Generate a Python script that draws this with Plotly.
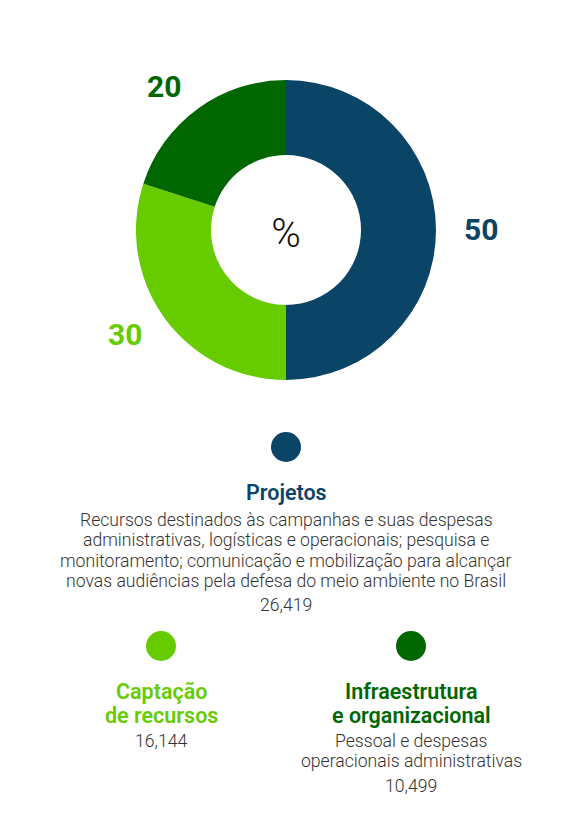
import math
import plotly.graph_objects as go

W, H = 570, 816
OFF = 8  # page body margin in the browser

# ---- data ----
categories = ["Projetos", "Captação de recursos", "Infraestrutura e organizacional"]
percentages = [50, 30, 20]
amounts = ["26,419", "16,144", "10,499"]
title_lines = [["Projetos"], ["Captação", "de recursos"], ["Infraestrutura", "e organizacional"]]
descriptions = [
    ["Recursos destinados às campanhas e suas despesas",
     "administrativas, logísticas e operacionais; pesquisa e",
     "monitoramento; comunicação e mobilização para alcançar",
     "novas audiências pela defesa do meio ambiente no Brasil"],
    [],
    ["Pessoal e despesas", "operacionais administrativas"],
]
colors = ["#0a4466", "#66cc00", "#006600"]

FONT = "Roboto"
TEXT_COLOR = "#333333"

def px_x(x):
    return (x - OFF) / W

def px_y(y):
    return 1 - (y - OFF) / H

# pie geometry (pixels)
cx, cy, R = 286, 230, 150

fig = go.Figure()
fig.add_trace(go.Pie(
    labels=categories,
    values=percentages,
    marker=dict(colors=colors, line=dict(width=0)),
    hole=0.5,
    sort=False,
    direction="clockwise",
    rotation=0,
    textinfo="none",
    hoverinfo="label+percent",
    showlegend=False,
    domain=dict(x=[px_x(cx - R), px_x(cx + R)], y=[px_y(cy + R), px_y(cy - R)]),
    title=dict(text="%", position="middle center",
               font=dict(family=FONT, size=40, color="#111111", weight=300)),
))

annotations = []
shapes = []

# outside value labels, anchored at mid-angle of each slice
total = sum(percentages)
acc = 0
label_r = 177
for v, c in zip(percentages, colors):
    mid = (acc + v / 2) / total * 2 * math.pi
    acc += v
    sx = math.sin(mid)
    lx = cx + label_r * sx
    ly = cy - label_r * math.cos(mid)
    xa = "left" if sx > 0.05 else ("right" if sx < -0.05 else "center")
    annotations.append(dict(
        x=px_x(lx), y=px_y(ly), xref="paper", yref="paper",
        text=f"<b>{v}</b>", showarrow=False, borderpad=0,
        font=dict(family=FONT, size=30, color=c),
        xanchor=xa, yanchor="middle",
    ))

# legend blocks
blocks = [
    dict(x=286, dot_y=447, title_y=492, lines_y0=520, amount_y=605),
    dict(x=161, dot_y=646, title_y=691, lines_y0=741, amount_y=741),
    dict(x=411, dot_y=646, title_y=691, lines_y0=741, amount_y=786),
]
title_step = 24
line_step = 20.4
dot_r = 15

for i, b in enumerate(blocks):
    shapes.append(dict(
        type="circle", xref="paper", yref="paper",
        x0=px_x(b["x"] - dot_r), x1=px_x(b["x"] + dot_r),
        y0=px_y(b["dot_y"] + dot_r), y1=px_y(b["dot_y"] - dot_r),
        fillcolor=colors[i], line=dict(width=0),
    ))
    for j, t in enumerate(title_lines[i]):
        annotations.append(dict(
            x=px_x(b["x"]), y=px_y(b["title_y"] + j * title_step),
            xref="paper", yref="paper", text=t, showarrow=False,
            font=dict(family=FONT, size=21.5, color=colors[i], weight=600),
            xanchor="center", yanchor="middle",
        ))
    for j, t in enumerate(descriptions[i]):
        annotations.append(dict(
            x=px_x(b["x"]), y=px_y(b["lines_y0"] + j * line_step),
            xref="paper", yref="paper", text=t, showarrow=False,
            font=dict(family=FONT, size=17.6, color=TEXT_COLOR, weight=300),
            xanchor="center", yanchor="middle",
        ))
    annotations.append(dict(
        x=px_x(b["x"]), y=px_y(b["amount_y"]),
        xref="paper", yref="paper", text=amounts[i], showarrow=False,
        font=dict(family=FONT, size=17.6, color=TEXT_COLOR, weight=300),
        xanchor="center", yanchor="middle",
    ))

fig.update_layout(
    width=W, height=H,
    margin=dict(l=0, r=0, t=0, b=0),
    paper_bgcolor="white",
    plot_bgcolor="white",
    annotations=annotations,
    shapes=shapes,
    showlegend=False,
)

fig.write_html("out.html")
